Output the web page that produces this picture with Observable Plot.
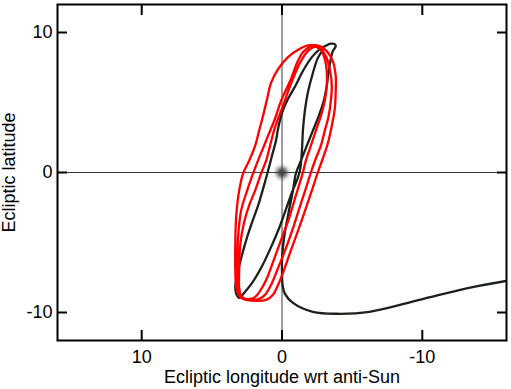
<!DOCTYPE html>
<html><head><meta charset="utf-8">
<script src="https://cdn.jsdelivr.net/npm/d3@7"></script>
<script src="https://cdn.jsdelivr.net/npm/@observablehq/plot@0.6"></script>
<style>html,body{margin:0;padding:0;background:#fff;} svg{display:block}</style>
</head><body><div id="chart"></div>
<script>
// Black trajectory (arrival + first loops), ecliptic longitude wrt anti-Sun / latitude (deg)
const blackLon = [-15.96,-13.33,-9.79,-6.24,-3.90,-2.20,-0.78,-0.21,-0.04,0.00,0.00,-0.07,-0.21,-0.50,-0.78,-0.99,
  -1.35,-1.77,-2.20,-2.62,-2.98,-3.19,-3.33,-3.48,-3.62,-3.76,-3.83,
  -3.76,-3.48,-3.12,-2.70,
  -2.13,-1.49,-0.99,-0.43,0.00,0.28,0.43,0.71,0.99,1.28,1.70,2.13,2.55,2.91,3.19,3.33,3.26,3.05,
  2.70,2.13,1.42,0.78,0.21,-0.28,-0.71,-1.06,-1.28,-1.42,-1.49,-1.63,-1.84,-2.20,-2.55,-2.91];
const blackLat = [-7.75,-8.24,-9.10,-9.95,-10.09,-9.95,-9.31,-8.67,-8.03,-7.11,-6.25,-5.33,-4.26,-2.70,-1.28,-0.07,
  0.85,1.92,2.99,4.05,5.12,6.18,7.25,8.10,8.67,8.88,9.03,
  9.17,9.20,9.06,8.81,
  8.24,7.25,6.25,5.26,4.26,3.13,2.27,1.21,0.14,-0.92,-2.35,-3.55,-4.83,-6.11,-7.32,-8.17,-8.67,-8.96,
  -8.60,-7.89,-6.68,-5.33,-3.98,-2.63,-1.42,-0.57,0.14,1.56,2.99,4.41,5.69,7.11,8.17,8.74];

// Red trajectory (later loops)
const redLon = [-2.91,-2.70,-2.41,
  -1.84,-1.35,-0.92,-0.50,-0.07,0.28,0.57,0.85,1.13,1.49,1.91,2.34,2.70,2.98,3.05,3.05,2.91,
  2.62,2.27,1.91,
  1.56,1.13,0.64,0.07,-0.50,-0.99,-1.28,-1.49,-1.70,-2.06,-2.41,-2.77,-3.05,-3.19,-3.19,-3.05,-2.77,-2.20,
  -1.56,-1.13,-0.64,0.07,0.50,0.99,1.42,1.77,2.06,2.48,2.91,3.12,3.19,3.19,3.05,2.77,
  2.13,1.63,1.21,
  0.78,0.28,-0.28,-0.85,-1.42,-1.77,-2.06,-2.41,-2.77,-3.05,-3.33,-3.48,-3.55,-3.40,-3.12,-2.55,-1.99,
  -1.21,-0.43,0.28,0.78,1.06,1.35,1.63,1.91,2.34,2.77,3.05,3.26,3.33,3.33,3.26,3.05,2.77,
  1.84,1.13,0.64,
  0.28,-0.14,-0.64,-1.21,-1.70,-2.13,-2.55,-2.91,-3.26,-3.55,-3.76,-3.83,-3.83,-3.62,-3.19,-2.70,-2.27];
const redLat = [8.74,9.03,9.03,
  8.67,7.96,7.04,5.97,4.76,3.84,2.99,1.92,0.85,-0.07,-1.28,-2.35,-3.55,-5.19,-6.97,-8.24,-8.81,
  -9.03,-9.03,-8.88,
  -8.46,-7.68,-6.40,-4.83,-3.27,-1.63,-0.71,0.00,0.85,1.92,2.99,4.05,5.12,6.18,7.25,8.10,8.74,9.03,
  8.67,7.96,6.68,5.12,3.84,2.63,1.56,0.71,-0.07,-1.28,-2.70,-4.48,-6.25,-7.82,-8.67,-9.03,
  -9.10,-9.03,-8.74,
  -8.03,-6.82,-5.40,-3.77,-1.99,-0.92,0.00,1.00,1.92,2.99,4.05,5.12,6.18,7.39,8.32,8.96,9.10,
  8.81,8.24,7.39,6.40,5.26,4.05,2.99,1.92,0.85,-0.07,-1.28,-3.06,-5.19,-6.97,-8.17,-8.81,-9.03,
  -9.17,-9.10,-8.74,
  -8.03,-6.97,-5.54,-3.98,-2.56,-1.28,0.00,1.00,2.06,3.34,4.55,5.83,6.89,7.96,8.67,9.03,9.10];

const originLon = [0];
const originLat = [0];
const xTicks = [10, 0, -10];
const yTicks = [-10, 0, 10];
const xDomain = [16, -16];
const yDomain = [-12, 12];
const xLabel = "Ecliptic longitude wrt anti-Sun";
const yLabel = "Ecliptic latitude";

const black = blackLon.map((x, i) => ({x, y: blackLat[i]}));
const red = redLon.map((x, i) => ({x, y: redLat[i]}));
const origin = originLon.map((x, i) => ({x, y: originLat[i]}));

const font = "'Liberation Sans', Arial, Helvetica, sans-serif";
const blank = () => "";
const plain = d => String(d);

const plot = Plot.plot({
  width: 511,
  height: 389,
  marginLeft: 57,
  marginRight: 5,
  marginTop: 4,
  marginBottom: 49,
  style: {fontFamily: font, fontSize: "18px", color: "#000", background: "#fff"},
  x: {domain: xDomain},
  y: {domain: yDomain},
  marks: [
    Plot.ruleX([0], {stroke: "#3a3a3a", strokeWidth: 1}),
    Plot.ruleY([0], {stroke: "#3a3a3a", strokeWidth: 1}),
    Plot.dot(origin, {x: "x", y: "y", r: 5.5, fill: "#3c3c3c", stroke: null}),
    Plot.line(black, {x: "x", y: "y", stroke: "#1b211b", strokeWidth: 2.3, curve: "catmull-rom", clip: true}),
    Plot.line(red, {x: "x", y: "y", stroke: "#ff0000", strokeWidth: 2.3, curve: "catmull-rom", clip: true}),
    Plot.frame({stroke: "#000", strokeWidth: 2}),
    Plot.axisX(xTicks, {anchor: "bottom", tickSize: 10, dy: -10, strokeWidth: 2, tickFormat: blank, label: null}),
    Plot.axisX(xTicks, {anchor: "top", tickSize: 10, dy: 10, strokeWidth: 2, tickFormat: blank, label: null}),
    Plot.axisY(yTicks, {anchor: "left", tickSize: 10, dx: 10, strokeWidth: 2, tickFormat: blank, label: null}),
    Plot.axisY(yTicks, {anchor: "right", tickSize: 10, dx: -10, strokeWidth: 2, tickFormat: blank, label: null}),
    Plot.axisX(xTicks, {anchor: "bottom", tickSize: 0, tickPadding: 10, fontSize: 18, tickFormat: plain, label: null}),
    Plot.axisY(yTicks, {anchor: "left", tickSize: 0, tickPadding: 5, fontSize: 18, tickFormat: plain, label: null}),
    Plot.text([xLabel], {text: d => d, frameAnchor: "bottom", dy: 42, lineAnchor: "bottom", textAnchor: "middle", fontSize: 18, fill: "#000"}),
    Plot.text([yLabel], {text: d => d, frameAnchor: "left", dx: -42.5, rotate: -90, lineAnchor: "bottom", textAnchor: "middle", fontSize: 18, fill: "#000"})
  ]
});

const svg = d3.select(plot);
const defs = svg.insert("defs", ":first-child");
defs.append("filter").attr("id", "blurDot").attr("x", "-2").attr("y", "-2").attr("width", "5").attr("height", "5")
  .append("feGaussianBlur").attr("stdDeviation", 2);
svg.selectAll('g[aria-label="dot"] circle').attr("filter", "url(#blurDot)");

document.getElementById("chart").appendChild(plot);
</script>
</body></html>
